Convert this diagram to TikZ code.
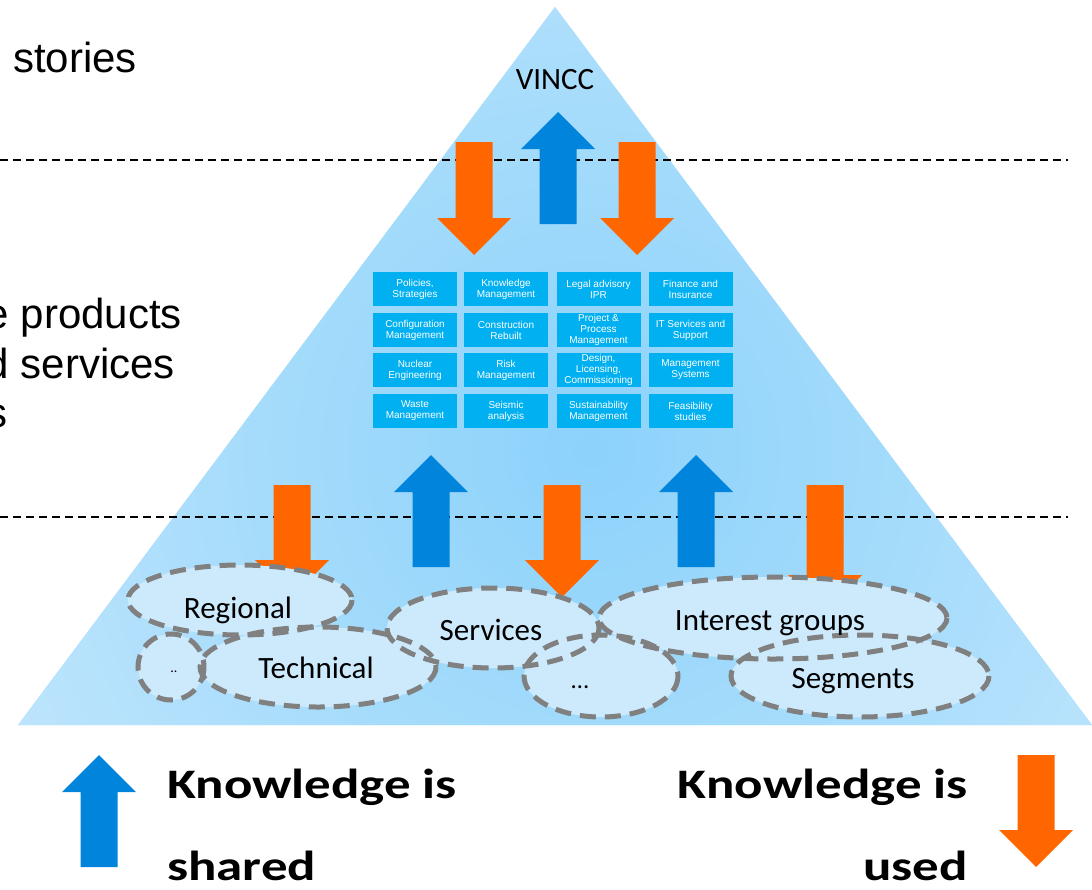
\documentclass[tikz,border=0pt]{standalone}
\usepackage{fontspec}
\setmainfont{Liberation Sans}
\newfontfamily\calfnt{Carlito}
\usetikzlibrary{shapes.geometric}
\definecolor{triA}{HTML}{B9E2FB}
\definecolor{triMid}{HTML}{8CD2FB}
\definecolor{triEdge}{HTML}{C6E8FC}
\definecolor{boxc}{HTML}{00B0F0}
\definecolor{blu}{HTML}{0084DC}
\definecolor{org}{HTML}{FF6600}
\definecolor{ellf}{HTML}{CDEAFD}
\definecolor{elld}{HTML}{808080}
% up arrow: x, tip y, bottom y, colour
\newcommand\arrUp[4]{\fill[#4] (#1,#2) -- (#1+37,#2+37) -- (#1+18.5,#2+37) -- (#1+18.5,#3) -- (#1-18.5,#3) -- (#1-18.5,#2+37) -- (#1-37,#2+37) -- cycle;}
% down arrow: x, top y, tip y, colour
\newcommand\arrDn[4]{\fill[#4] (#1,#3) -- (#1+37,#3-37) -- (#1+18.5,#3-37) -- (#1+18.5,#2) -- (#1-18.5,#2) -- (#1-18.5,#3-37) -- (#1-37,#3-37) -- cycle;}
\newcommand\wide[1]{\scalebox{1.26}[1]{#1}}
\tikzset{
  boxst/.style={fill=boxc, text=white, minimum width=84pt, minimum height=34pt, inner sep=0pt, align=center, font=\fontsize{10}{11}\selectfont},
  ellfill/.style={ellipse, fill=ellf, inner sep=0pt},
  elldash/.style={draw=elld, line width=5pt, dash pattern=on 16pt off 9pt},
  elltxt/.style={font=\calfnt\fontsize{31}{36}\selectfont, inner sep=0pt, anchor=base},
  sepline/.style={black, line width=1.4pt, dash pattern=on 8pt off 5pt},
  bigtxt/.style={font=\fontsize{42}{50}\selectfont, inner sep=0pt},
  legtxt/.style={font=\calfnt\bfseries\fontsize{42}{50}\selectfont, inner sep=0pt}
}
\begin{document}
\begin{tikzpicture}[x=1pt,y=-1pt]
\useasboundingbox (0,0) rectangle (1092,889);
% pyramid
\coordinate (apex) at (555,7);
\coordinate (bl) at (18,725);
\coordinate (br) at (1092,725);
\fill[triA] (apex) -- (br) -- (bl) -- cycle;
\begin{scope}
  \clip (apex) -- (br) -- (bl) -- cycle;
  \shade[inner color=triMid, outer color=triEdge] (590,450) circle (760);
\end{scope}
% left texts
\node[bigtxt, anchor=base east] (t1) at (137,72) {s stories};
\node[bigtxt, anchor=base east] (t2) at (182,328) {e products};
\node[bigtxt, anchor=base east] (t3) at (175,378) {d services};
\node[bigtxt, anchor=base east] (t4) at (8,427) {s};
% dashed separators
\coordinate (s1a) at (0,160); \coordinate (s1b) at (1068,160);
\coordinate (s2a) at (0,517); \coordinate (s2b) at (1068,517);
\draw[sepline] (s1a) -- (s1b);
\draw[sepline] (s2a) -- (s2b);
% VINCC
\node[font=\calfnt\fontsize{31}{36}\selectfont, inner sep=0pt, anchor=base] (vincc) at (555,89) {VINCC};
% top arrows
\arrDn{474}{142}{255}{org}
\arrUp{558}{112}{224}{blu}
\arrDn{637}{142}{255}{org}
% grid of boxes
\node[boxst] (b11) at (415,289) {Policies,\\Strategies};
\node[boxst] (b12) at (506,289) {Knowledge\\Management};
\node[boxst] (b13) at (598.5,289) {Legal advisory\\IPR};
\node[boxst] (b14) at (690.5,289) {Finance and\\Insurance};
\node[boxst] (b21) at (415,330) {Configuration\\Management};
\node[boxst] (b22) at (506,330) {Construction\\Rebuilt};
\node[boxst] (b23) at (598.5,330) {Project \&\\Process\\Management};
\node[boxst] (b24) at (690.5,330) {IT Services and\\Support};
\node[boxst] (b31) at (415,370) {Nuclear\\Engineering};
\node[boxst] (b32) at (506,370) {Risk\\Management};
\node[boxst] (b33) at (598.5,370) {Design,\\Licensing,\\Commissioning};
\node[boxst] (b34) at (690.5,370) {Management\\Systems};
\node[boxst] (b41) at (415,411) {Waste\\Management};
\node[boxst] (b42) at (506,411) {Seismic\\analysis};
\node[boxst] (b43) at (598.5,411) {Sustainability\\Management};
\node[boxst] (b44) at (690.5,411) {Feasibility\\studies};
% lower arrows
\arrDn{292}{485}{597}{org}
\arrUp{431}{455}{567}{blu}
\arrDn{562}{485}{597}{org}
\arrUp{696}{455}{567}{blu}
\arrDn{825}{485}{612}{org}
% ellipses: fills
\node[ellfill, minimum width=224pt, minimum height=70pt] (reg) at (240,600) {};
\node[ellfill, minimum width=66pt, minimum height=66pt] (dots) at (171,667) {};
\node[ellfill, minimum width=236pt, minimum height=80pt] (tech) at (318,667) {};
\node[ellfill, minimum width=212pt, minimum height=80pt] (serv) at (493,628) {};
\node[ellfill, minimum width=154pt, minimum height=82pt] (ell) at (601,676) {};
\node[ellfill, minimum width=348pt, minimum height=82pt] (intg) at (773,618) {};
\node[ellfill, minimum width=258pt, minimum height=82pt] (seg) at (860,676) {};
% ellipses: dashed outlines
\draw[elldash] (reg.center) ellipse [x radius=112, y radius=35];
\draw[elldash] (dots.center) ellipse [x radius=33, y radius=33];
\draw[elldash] (tech.center) ellipse [x radius=118, y radius=40];
\draw[elldash] (serv.center) ellipse [x radius=106, y radius=40];
\draw[elldash] (ell.center) ellipse [x radius=77, y radius=41];
\draw[elldash] (intg.center) ellipse [x radius=174, y radius=41];
\draw[elldash] (seg.center) ellipse [x radius=129, y radius=41];
% ellipse labels
\node[elltxt] (regt) at (238,618) {Regional};
\node[elltxt, font=\calfnt\fontsize{14}{16}\selectfont] (dotst) at (174,672) {..};
\node[elltxt] (techt) at (316,678) {Technical};
\node[elltxt] (servt) at (491,640) {Services};
\node[elltxt, font=\calfnt\fontsize{25}{30}\selectfont] (ellt) at (580,688) {…};
\node[elltxt] (intgt) at (770,630) {Interest groups};
\node[elltxt] (segt) at (853,688) {Segments};
% legend
\arrUp{99}{755}{867}{blu}
\arrDn{1036}{755}{867}{org}
\node[legtxt, anchor=base west] (l1) at (167,798) {\wide{Knowledge is}};
\node[legtxt, anchor=base west] (l2) at (167,880) {\wide{shared}};
\node[legtxt, anchor=base east] (r1) at (968,798) {\wide{Knowledge is}};
\node[legtxt, anchor=base east] (r2) at (968,880) {\wide{used}};
\end{tikzpicture}
\end{document}
